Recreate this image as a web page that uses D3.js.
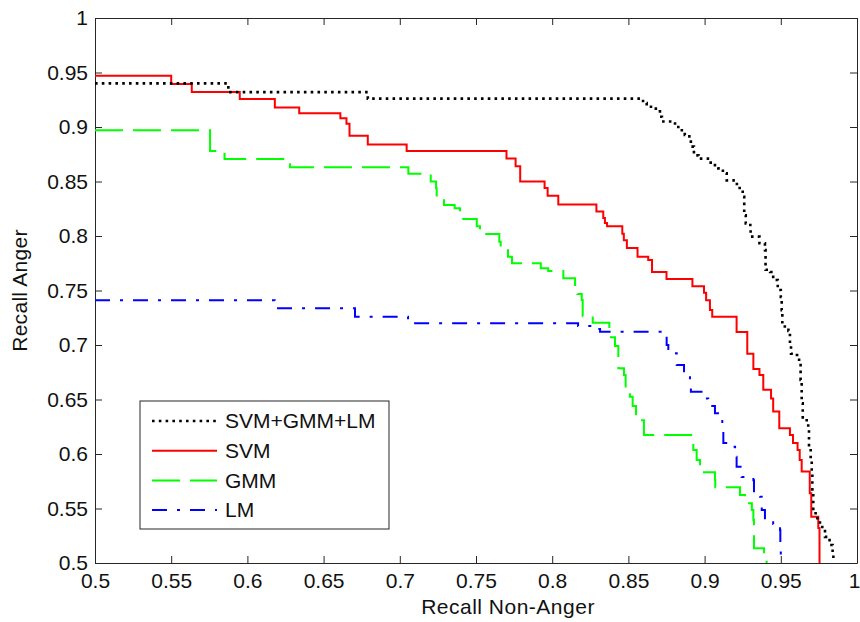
<!DOCTYPE html>
<html>
<head>
<meta charset="utf-8">
<script src="https://cdn.jsdelivr.net/npm/d3@7"></script>
<style>
  body { margin: 0; background: #fff; }
  svg text { font-family: "Liberation Sans", Arial, sans-serif; fill: #111; }
  .axis path, .axis line { stroke: #262626; }
  .legend-label { font-size: 21px; }
</style>
</head>
<body>
<svg id="chart" width="860" height="622"></svg>
<script>
// tick values for both axes
var xTicks = [0.5, 0.55, 0.6, 0.65, 0.7, 0.75, 0.8, 0.85, 0.9, 0.95, 1];
var yTicks = [0.5, 0.55, 0.6, 0.65, 0.7, 0.75, 0.8, 0.85, 0.9, 0.95, 1];

// each point = [recall non-anger, recall anger] where a new step begins
var comboCurve = [
  [0.5, 0.940], [0.5875, 0.932], [0.679, 0.926], [0.8596, 0.922], [0.862, 0.9186],
  [0.868, 0.9156], [0.8707, 0.9094], [0.872, 0.905], [0.8806, 0.900], [0.884, 0.897],
  [0.887, 0.8927], [0.890, 0.888], [0.891, 0.882], [0.893, 0.874], [0.896, 0.871],
  [0.904, 0.865], [0.909, 0.862], [0.912, 0.8575], [0.9145, 0.851], [0.919, 0.8477],
  [0.923, 0.8406], [0.925, 0.836], [0.926, 0.819], [0.927, 0.8116], [0.930, 0.8055],
  [0.9302, 0.7994], [0.936, 0.7933], [0.9396, 0.787], [0.940, 0.769], [0.943, 0.767],
  [0.945, 0.7596], [0.948, 0.7505], [0.950, 0.744], [0.9506, 0.732], [0.951, 0.717],
  [0.955, 0.713], [0.956, 0.7016], [0.9567, 0.692], [0.9606, 0.6908], [0.962, 0.683],
  [0.963, 0.668], [0.9637, 0.6465], [0.9644, 0.631], [0.968, 0.6236], [0.9685, 0.6067],
  [0.9696, 0.5945], [0.9703, 0.582], [0.9707, 0.564], [0.9713, 0.5456], [0.974, 0.541],
  [0.9757, 0.533], [0.979, 0.524], [0.982, 0.5165], [0.984, 0.509], [0.9845, 0.504]
];

var svmCurve = [
  [0.5, 0.947], [0.550, 0.9395], [0.5635, 0.932], [0.595, 0.9257], [0.618, 0.918],
  [0.634, 0.9126], [0.661, 0.908], [0.665, 0.903], [0.667, 0.892], [0.679, 0.884],
  [0.7045, 0.878], [0.770, 0.871], [0.776, 0.864], [0.779, 0.850], [0.795, 0.844],
  [0.797, 0.837], [0.804, 0.829], [0.829, 0.8225], [0.8335, 0.8165], [0.8346, 0.812],
  [0.836, 0.809], [0.846, 0.802], [0.847, 0.796], [0.849, 0.789], [0.856, 0.781],
  [0.863, 0.778], [0.8655, 0.767], [0.875, 0.7605], [0.892, 0.754], [0.8996, 0.748],
  [0.901, 0.741], [0.9035, 0.732], [0.905, 0.726], [0.921, 0.712], [0.928, 0.692],
  [0.932, 0.678], [0.936, 0.6725], [0.9385, 0.659], [0.9436, 0.651], [0.945, 0.639],
  [0.949, 0.6236], [0.956, 0.6174], [0.958, 0.610], [0.961, 0.6037], [0.9624, 0.5945],
  [0.9637, 0.584], [0.969, 0.564], [0.970, 0.5425], [0.9746, 0.532], [0.9754, 0.5]
];

var gmmCurve = [
  [0.5, 0.897], [0.5755, 0.878], [0.585, 0.8706], [0.628, 0.863], [0.7056, 0.857],
  [0.7203, 0.850], [0.7238, 0.8438], [0.7242, 0.836], [0.729, 0.8284], [0.736, 0.8254],
  [0.7395, 0.8223], [0.740, 0.8156], [0.7505, 0.809], [0.7526, 0.8018], [0.7653, 0.7948],
  [0.7662, 0.789], [0.771, 0.781], [0.7736, 0.775], [0.7925, 0.7704], [0.7974, 0.768],
  [0.8073, 0.7612], [0.815, 0.755], [0.8165, 0.7468], [0.8194, 0.7413], [0.820, 0.7263],
  [0.8266, 0.7205], [0.8375, 0.707], [0.8412, 0.699], [0.8434, 0.6786], [0.8471, 0.6725],
  [0.8482, 0.6587], [0.851, 0.6526], [0.8528, 0.644], [0.855, 0.631], [0.8602, 0.6174],
  [0.8926, 0.6037], [0.8948, 0.5945], [0.897, 0.5832], [0.9068, 0.5761], [0.907, 0.5694],
  [0.9232, 0.5624], [0.9265, 0.5548], [0.931, 0.5486], [0.932, 0.5394], [0.9324, 0.5135],
  [0.939, 0.5073], [0.9407, 0.5]
];

var lmCurve = [
  [0.5, 0.741], [0.618, 0.7337], [0.6706, 0.726], [0.7054, 0.720], [0.817, 0.7174],
  [0.825, 0.7147], [0.8314, 0.7122], [0.874, 0.7107], [0.8751, 0.700], [0.8762, 0.6924],
  [0.8817, 0.6817], [0.8865, 0.6725], [0.8904, 0.6663], [0.891, 0.657], [0.898, 0.651],
  [0.9024, 0.644], [0.9068, 0.6373], [0.910, 0.6318], [0.9116, 0.6205], [0.9123, 0.610],
  [0.9178, 0.6067], [0.920, 0.5975], [0.921, 0.5883], [0.9243, 0.579], [0.932, 0.576],
  [0.9324, 0.5645], [0.9364, 0.5608], [0.9375, 0.5486], [0.9396, 0.540], [0.945, 0.5358],
  [0.9495, 0.5303], [0.9497, 0.5165], [0.950, 0.5]
];

var seriesNames = ["SVM+GMM+LM", "SVM", "GMM", "LM"];
var seriesData = [comboCurve, svmCurve, gmmCurve, lmCurve];
var seriesColors = ["#000000", "#ff0000", "#00ff00", "#0000ff"];
var seriesDash = ["2.6,4.2", null, "28,10", "15,10,3,10"];
var seriesWidth = [2.6, 2, 2, 2];

var margin = {top: 18, right: 3, bottom: 59, left: 95};
var width = 860 - margin.left - margin.right,
    height = 622 - margin.top - margin.bottom;

var svg = d3.select("#chart");
var chart = svg.append("g")
  .attr("transform", `translate(${margin.left},${margin.top})`);

var x = d3.scaleLinear().domain([0.5, 1]).range([0, width]);
var y = d3.scaleLinear().domain([0.5, 1]).range([height, 0]);
var fmt = d3.format("");

// ticks point inward, like matlab
chart.append("g")
  .attr("class", "axis")
  .attr("transform", `translate(0,${height})`)
  .call(d3.axisBottom(x).tickValues(xTicks).tickFormat(fmt).tickSizeInner(-7).tickSizeOuter(0).tickPadding(10))
  .call(g => g.selectAll("text").attr("font-size", 21))
  .call(g => g.selectAll("text").filter(d => d === 1).attr("dx", -3)); // keep "1" inside the frame
chart.append("g")
  .attr("class", "axis")
  .call(d3.axisLeft(y).tickValues(yTicks).tickFormat(fmt).tickSizeInner(-7).tickSizeOuter(0).tickPadding(7))
  .call(g => g.selectAll("text").attr("font-size", 21));
chart.append("g")
  .attr("class", "axis")
  .call(d3.axisTop(x).tickValues(xTicks).tickFormat("").tickSizeInner(-7).tickSizeOuter(0));
chart.append("g")
  .attr("class", "axis")
  .attr("transform", `translate(${width},0)`)
  .call(d3.axisRight(y).tickValues(yTicks).tickFormat("").tickSizeInner(-7).tickSizeOuter(0));
chart.selectAll(".axis text").attr("fill", "#111").attr("font-family", "Liberation Sans, Arial, sans-serif");

chart.append("clipPath").attr("id", "plotclip")
  .append("rect").attr("width", width).attr("height", height);

var line = d3.line()
  .x(d => x(d[0]))
  .y(d => y(d[1]))
  .curve(d3.curveStepAfter);

// draw in reverse so the combined curve sits on top
var order = [3, 2, 1, 0];
chart.append("g").attr("clip-path", "url(#plotclip)")
  .selectAll("path")
  .data(order)
  .enter()
  .append("path")
    .attr("d", i => line(seriesData[i]))
    .attr("fill", "none")
    .attr("stroke", i => seriesColors[i])
    .attr("stroke-width", i => seriesWidth[i])
    .attr("stroke-dasharray", i => seriesDash[i]);

// axis titles
chart.append("text")
  .attr("x", 413)
  .attr("y", height + 51)
  .attr("text-anchor", "middle")
  .attr("font-size", 21)
  .attr("letter-spacing", 0.5)
  .text("Recall Non-Anger");
chart.append("text")
  .attr("transform", `translate(${-68},${height / 2}) rotate(-90)`)
  .attr("text-anchor", "middle")
  .attr("font-size", 21)
  .attr("letter-spacing", 0.3)
  .text("Recall Anger");

// legend
var legend = chart.append("g").attr("transform", "translate(45,383)");
legend.append("rect")
  .attr("width", 249).attr("height", 128)
  .attr("fill", "#fff").attr("stroke", "#262626");
var items = legend.selectAll("g.item")
  .data(seriesNames)
  .enter()
  .append("g")
  .attr("class", "item")
  .attr("transform", (d, i) => `translate(0,${20 + i * 29.7})`);
items.append("line")
  .attr("x1", 12).attr("x2", 77)
  .attr("stroke", (d, i) => seriesColors[i])
  .attr("stroke-width", (d, i) => seriesWidth[i])
  .attr("stroke-dasharray", (d, i) => seriesDash[i]);
items.append("text")
  .attr("class", "legend-label")
  .attr("x", 85)
  .attr("dy", "0.35em")
  .text(d => d);
</script>
</body>
</html>
